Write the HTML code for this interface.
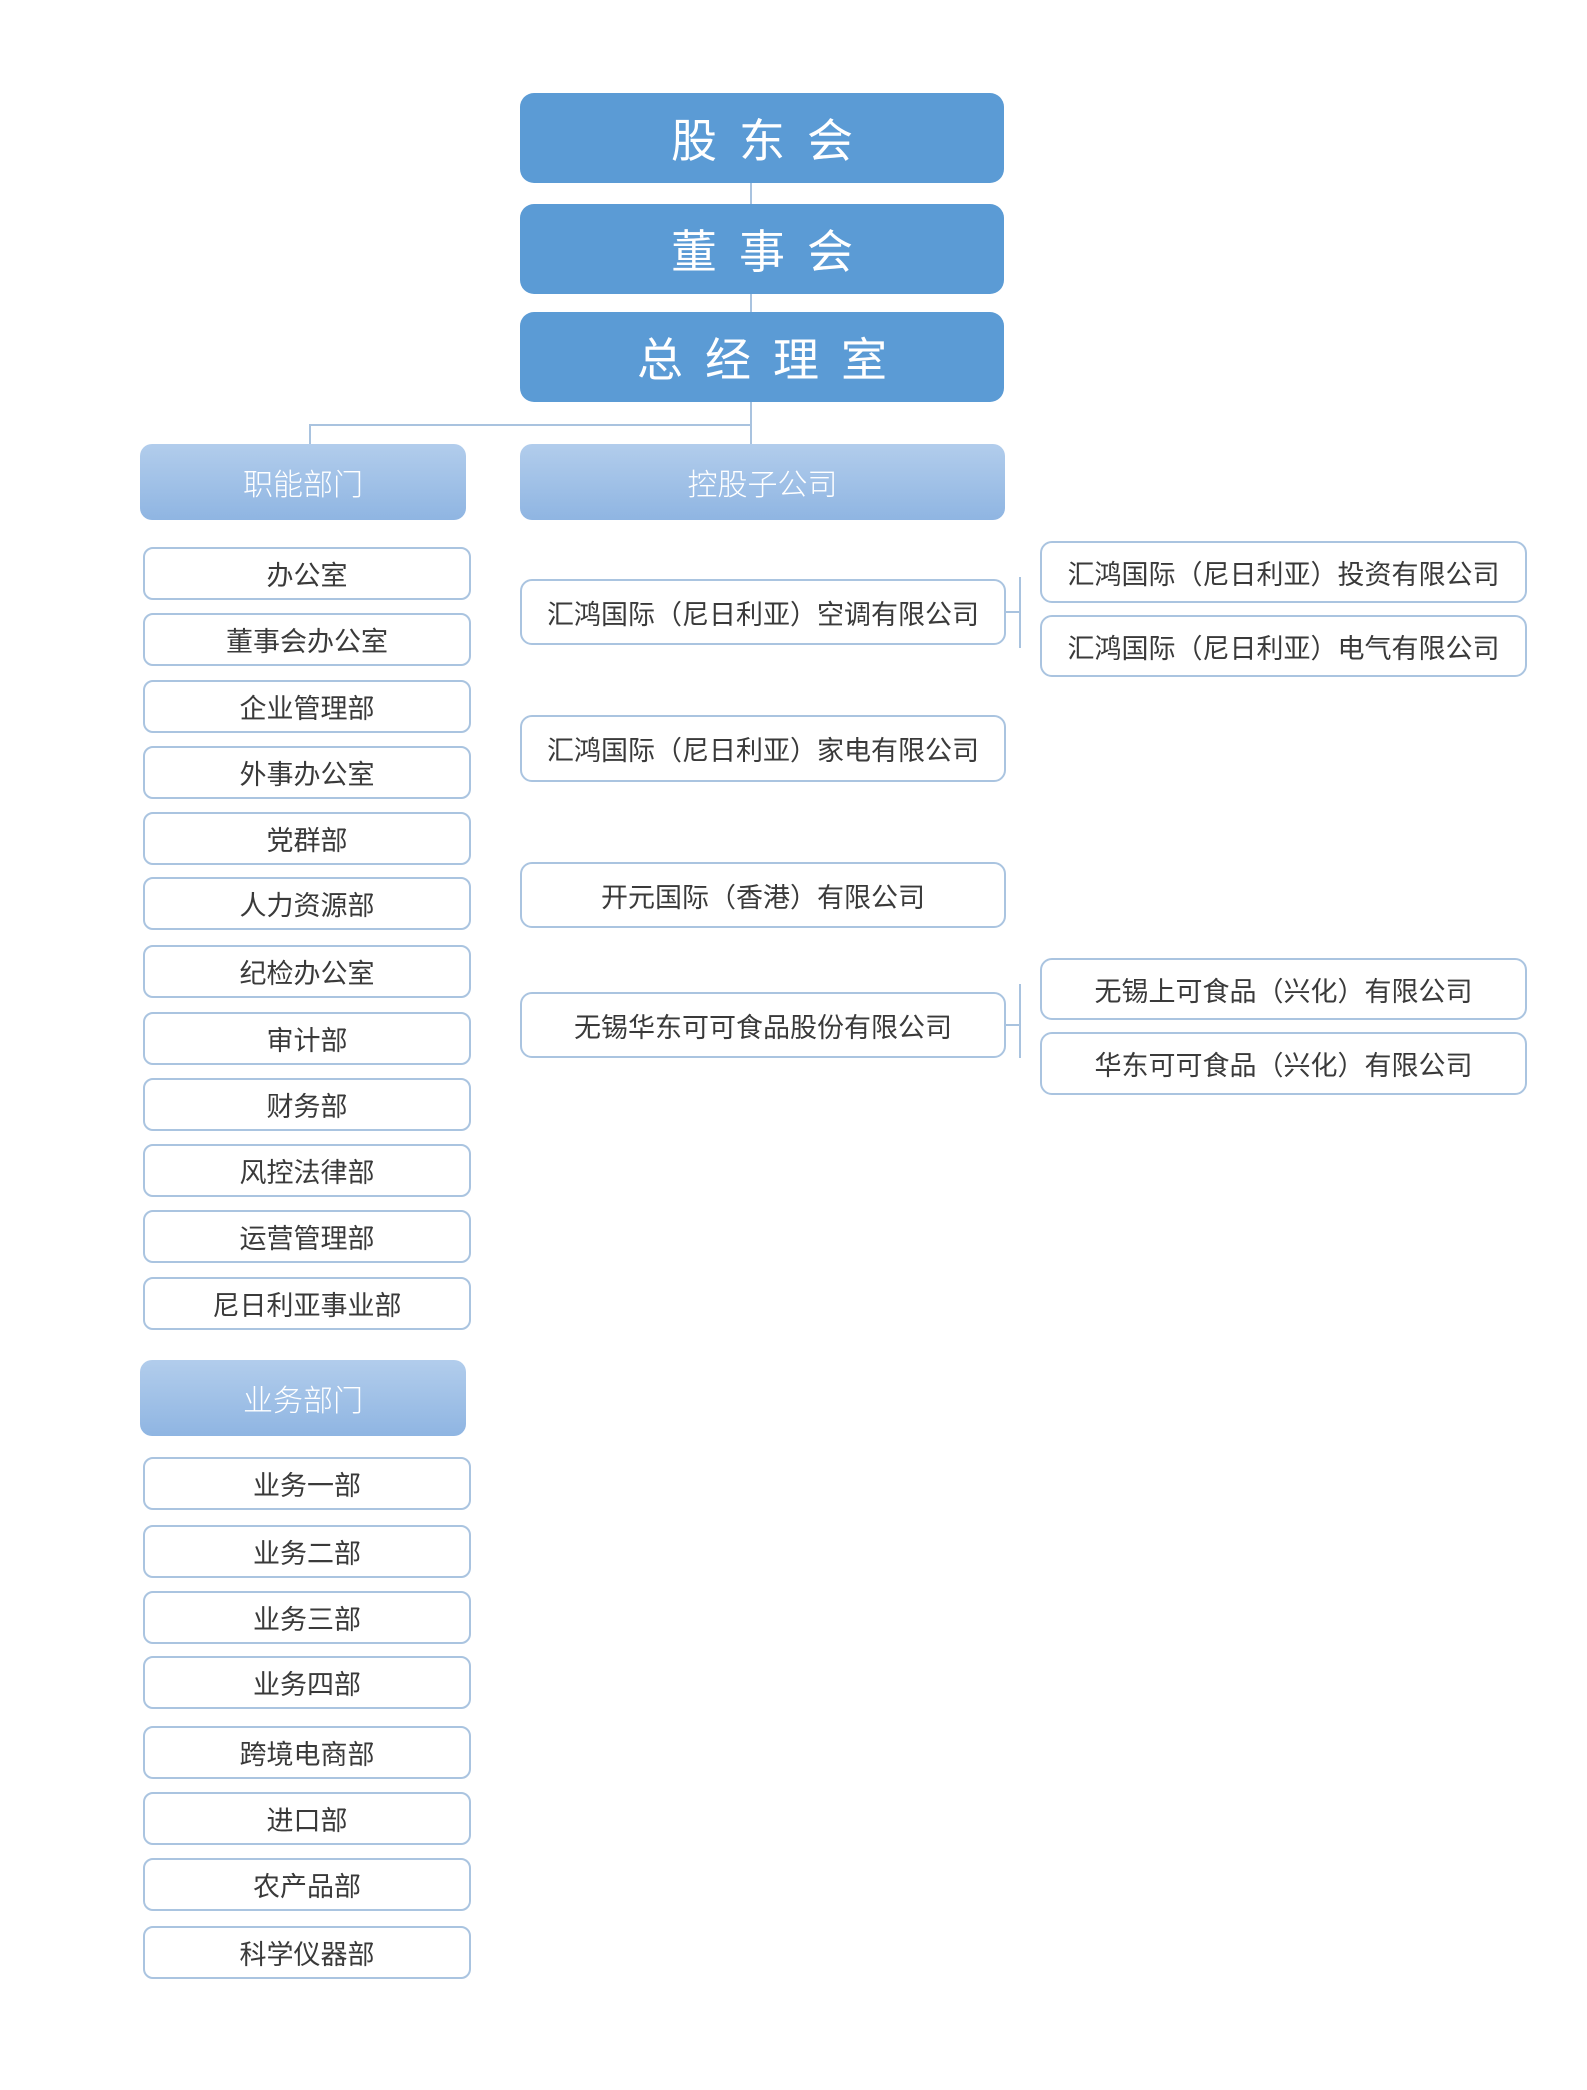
<!DOCTYPE html>
<html><head><meta charset="utf-8"><style>
body{margin:0;width:1587px;height:2090px;background:#fff;position:relative;font-family:"Liberation Sans","Noto Sans CJK SC",sans-serif;overflow:hidden}
.b{position:absolute;box-sizing:border-box;display:flex;align-items:center;justify-content:center;white-space:nowrap}
.top{background:#5b9bd5;color:#fff;border-radius:14px;font-size:46px;letter-spacing:22px;text-indent:22px;left:520px;width:484px;height:90px}
.hd{background:linear-gradient(#b2cdec,#8fb5e2);color:#fff;border-radius:12px;font-size:30px;font-weight:300;height:76px;top:444px}
.l{border:2px solid #aac4e0;border-radius:10px;background:#fff;color:#3a3a3a;font-size:27px;left:143px;width:328px;height:53px}
.s{border:2px solid #aac4e0;border-radius:12px;background:#fff;color:#3a3a3a;font-size:27px}
.ln{position:absolute;background:#a9c3df}
</style></head><body>
<div class="ln" style="left:750px;top:183px;width:2px;height:261px"></div>
<div class="ln" style="left:309px;top:424px;width:443px;height:2px"></div>
<div class="ln" style="left:309px;top:424px;width:2px;height:20px"></div>
<div class="b top" style="top:93px">股东会</div>
<div class="b top" style="top:204px">董事会</div>
<div class="b top" style="top:312px">总经理室</div>
<div class="b hd" style="left:140px;width:326px">职能部门</div>
<div class="b hd" style="left:520px;width:485px">控股子公司</div>

<div class="b l" style="top:547px">办公室</div>
<div class="b l" style="top:613px">董事会办公室</div>
<div class="b l" style="top:680px">企业管理部</div>
<div class="b l" style="top:746px">外事办公室</div>
<div class="b l" style="top:812px">党群部</div>
<div class="b l" style="top:877px">人力资源部</div>
<div class="b l" style="top:945px">纪检办公室</div>
<div class="b l" style="top:1012px">审计部</div>
<div class="b l" style="top:1078px">财务部</div>
<div class="b l" style="top:1144px">风控法律部</div>
<div class="b l" style="top:1210px">运营管理部</div>
<div class="b l" style="top:1277px">尼日利亚事业部</div>

<div class="b hd" style="left:140px;width:326px;top:1360px">业务部门</div>
<div class="b l" style="top:1457px">业务一部</div>
<div class="b l" style="top:1525px">业务二部</div>
<div class="b l" style="top:1591px">业务三部</div>
<div class="b l" style="top:1656px">业务四部</div>
<div class="b l" style="top:1726px">跨境电商部</div>
<div class="b l" style="top:1792px">进口部</div>
<div class="b l" style="top:1858px">农产品部</div>
<div class="b l" style="top:1926px">科学仪器部</div>

<div class="ln" style="left:1006px;top:611px;width:14px;height:2px"></div>
<div class="ln" style="left:1019px;top:577px;width:2px;height:71px"></div>
<div class="ln" style="left:1006px;top:1024px;width:14px;height:2px"></div>
<div class="ln" style="left:1019px;top:984px;width:2px;height:74px"></div>

<div class="b s" style="left:520px;width:486px;top:579px;height:66px">汇鸿国际（尼日利亚）空调有限公司</div>
<div class="b s" style="left:520px;width:486px;top:715px;height:67px">汇鸿国际（尼日利亚）家电有限公司</div>
<div class="b s" style="left:520px;width:486px;top:862px;height:66px">开元国际（香港）有限公司</div>
<div class="b s" style="left:520px;width:486px;top:992px;height:66px">无锡华东可可食品股份有限公司</div>
<div class="b s" style="left:1040px;width:487px;top:541px;height:62px">汇鸿国际（尼日利亚）投资有限公司</div>
<div class="b s" style="left:1040px;width:487px;top:615px;height:62px">汇鸿国际（尼日利亚）电气有限公司</div>
<div class="b s" style="left:1040px;width:487px;top:958px;height:62px">无锡上可食品（兴化）有限公司</div>
<div class="b s" style="left:1040px;width:487px;top:1032px;height:63px">华东可可食品（兴化）有限公司</div>
</body></html>
